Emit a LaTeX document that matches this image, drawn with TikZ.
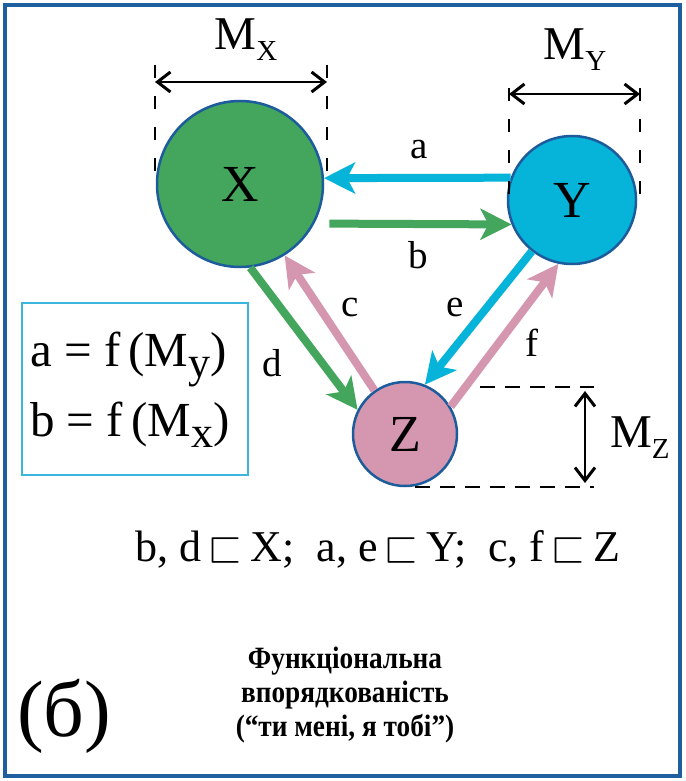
\documentclass[tikz,border=0pt]{standalone}
\usepackage{amssymb}
\usepackage{fontspec}
\setmainfont{Liberation Serif}
\newfontfamily\cyrbold{Liberation Serif}[FakeStretch=0.88]
\usetikzlibrary{arrows.meta}
\definecolor{frameblue}{HTML}{1E5FA0}
\definecolor{xgreen}{HTML}{43A65C}
\definecolor{ycyan}{HTML}{06B4D9}
\definecolor{zpink}{HTML}{D497AF}
\definecolor{rimblue}{HTML}{1D5C9C}
\definecolor{boxcyan}{HTML}{3AB6DF}
\newcommand\lowsub[3]{\lower#1\hbox{\fontsize{#2}{#2}\selectfont #3}}
\newcommand\incl{\,$\sqsubset$\,}
\begin{document}
\begin{tikzpicture}[x=1pt,y=-1pt,
  ent/.style={circle, draw=rimblue, line width=2.5pt, inner sep=0pt, font=\fontsize{52}{52}\selectfont},
  flow/.style={line width=8pt, -{Stealth[length=31pt,width=31pt,inset=8pt]}},
  lbl/.style={font=\fontsize{39}{39}\selectfont, inner sep=0pt},
  vdash/.style={black, line width=2pt, dash pattern=on 13pt off 18pt},
  hdash/.style={black, line width=2pt, dash pattern=on 15pt off 10pt},
  meas/.style={black, line width=2.5pt, {Straight Barb[length=13pt,width=20pt,line width=3pt]}-{Straight Barb[length=13pt,width=20pt,line width=3pt]}},
  big/.style={font=\fontsize{47}{47}\selectfont, inner sep=0pt},
  boxtext/.style={font=\fontsize{49}{49}\selectfont, inner sep=0pt, anchor=base west},
]
\useasboundingbox (0,0) rectangle (685,781);
\fill[white] (0,0) rectangle (685,781);
\draw[frameblue, line width=3.5pt] (5,5) rectangle (680,776);

% entities
\node[ent, fill=xgreen, minimum size=166pt] (X) at (240,184) {X};
\node[ent, fill=ycyan, minimum size=128pt] (Y) at (572,200) {Y};
\node[ent, fill=zpink, minimum size=104pt] (Z) at (405,434) {Z};

% flows
\draw[flow, ycyan] (Y.160) -- (X.4);
\draw[flow, xgreen, shorten <=15pt] (X.-28) -- (Y.202);
\draw[flow, xgreen] (X.-83) -- (Z.153);
\draw[flow, zpink] (Z.125) -- (X.-58);
\draw[flow, ycyan] (Y.232) -- (Z.68);
\draw[flow, zpink] (Z.31) -- (Y.258);

% flow labels
\node[lbl] (la) at (419,150) {a};
\node[lbl] (lb) at (418,255) {b};
\node[lbl] (lc) at (350,307) {c};
\node[lbl] (ld) at (272,363) {d};
\node[lbl] (le) at (455,307) {e};
\node[lbl] (lf) at (532,343) {f};

% measure of X
\draw[vdash] (155,65) -- (155,178);
\draw[vdash] (327,65) -- (327,178);
\coordinate (mx1) at (155,82);
\coordinate (mx2) at (327,82);
\draw[meas] (mx1) -- (mx2);
\node[big] (MX) at (246,40) {M\lowsub{11pt}{29}{X}};

% measure of Y
\draw[vdash] (509,88) -- (509,197);
\draw[vdash] (640,88) -- (640,197);
\coordinate (my1) at (509,94);
\coordinate (my2) at (640,94);
\draw[meas] (my1) -- (my2);
\node[big] (MY) at (575,50) {M\lowsub{11pt}{29}{Y}};

% measure of Z
\draw[hdash] (480,387) -- (594,387);
\draw[hdash] (415,487) -- (594,487);
\coordinate (mz1) at (585,391);
\coordinate (mz2) at (585,483);
\draw[meas] (mz1) -- (mz2);
\node[big, anchor=west] (MZ) at (610,438) {M\lowsub{11pt}{29}{Z}};

% formula box
\node[draw=boxcyan, line width=2pt, minimum width=226pt, minimum height=172pt, inner sep=0pt] (box) at (135,389) {};
\node[boxtext] (fa) at (30,366) {a = f\,(M\lowsub{11pt}{44}{y})};
\node[boxtext] (fb) at (30,436) {b = f\,(M\lowsub{11pt}{44}{x})};

% inclusion line
\node[font=\fontsize{44}{44}\selectfont, inner sep=0pt, anchor=base] (incl) at (378,561)
  {b, d\incl X;\ \ a, e\incl Y;\ \ c, f\incl Z};

% caption
\node[font=\fontsize{80}{80}\selectfont, inner sep=0pt] (tag) at (64,716) {(б)};
\node[font=\cyrbold\bfseries\fontsize{31}{34}\selectfont, align=center, inner sep=0pt] (cap) at (345,695)
  {Функціональна\\впорядкованість\\(“ти мені, я тобі”)};
\end{tikzpicture}
\end{document}
